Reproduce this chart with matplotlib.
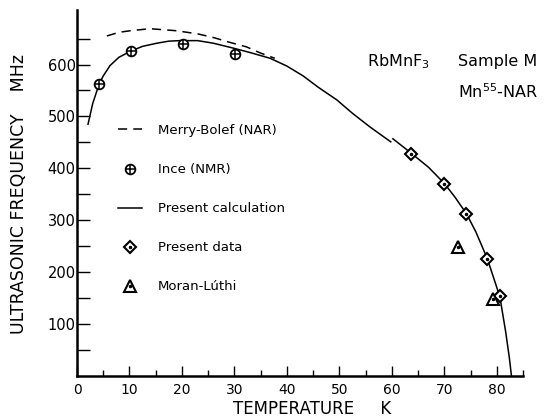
import matplotlib
matplotlib.use('Agg')
import matplotlib.pyplot as plt
from matplotlib.ticker import FixedLocator

# Merry-Bolef (NAR), dashed curve
mb_T = [5.7, 8.0, 10.1, 13.9, 19.0, 23.0, 26.0, 29.0, 32.3, 35.0, 37.7]
mb_f = [655, 662, 665, 669, 665, 659, 652, 643, 634, 622, 612]

# Present calculation, drawn in two pieces like the original
calc1_T = [2.1, 3.0, 4.2, 5.0, 6.3, 8.0, 10.3, 12.5, 15.2, 17.5, 19.6, 23.0,
           26.0, 30.0, 33.0, 36.8, 40.0, 43.1, 46.0, 49.5, 52.5, 55.8, 59.8]
calc1_f = [485, 525, 562, 578, 598, 614, 626, 635, 641, 645, 646, 646,
           641, 631, 623, 612, 597, 578, 556, 532, 506, 480, 451]
calc2_T = [60.2, 63.6, 67.0, 70.0, 72.0, 74.2, 76.0, 78.2, 79.7, 80.6, 81.7, 82.4, 82.8]
calc2_f = [457, 430, 402, 371, 345, 313, 278, 226, 180, 152, 85, 35, 0]

# Ince (NMR)
ince_T = [4.2, 10.3, 20.2, 30.2]
ince_f = [563, 626, 640, 620]

# Present data
data_T = [63.6, 70.0, 74.2, 78.2, 80.6]
data_f = [428, 370, 313, 225, 154]

# Moran-Luthi
ml_T = [72.7, 79.2]
ml_f = [249, 148]

fig = plt.figure(figsize=(5.51, 4.17), dpi=100)
ax = fig.add_axes([77/551, 41/417, 446/551, 366/417])

dash, = ax.plot(mb_T, mb_f, color='k', lw=1.1, dashes=(6, 4))
calc, = ax.plot(calc1_T, calc1_f, color='k', lw=1.1)
ax.plot(calc2_T, calc2_f, color='k', lw=1.1)

ince_o, = ax.plot(ince_T, ince_f, 'o', ms=7, mfc='white', mec='k', mew=1.3, ls='none')
ince_p, = ax.plot(ince_T, ince_f, '+', ms=7, mec='k', mew=1.1, ls='none')

data_d, = ax.plot(data_T, data_f, 'D', ms=6, mfc='white', mec='k', mew=1.5, ls='none')
data_c, = ax.plot(data_T, data_f, 'o', ms=1.5, color='k', ls='none')

ml_t, = ax.plot(ml_T, ml_f, '^', ms=8, mfc='white', mec='k', mew=1.5, ls='none')
ml_c, = ax.plot(ml_T, ml_f, 'o', ms=1.5, color='k', ls='none')

ax.set_xlim(0, 85)
ax.set_ylim(0, 705)

for s in ['top', 'right']:
    ax.spines[s].set_visible(False)
for s in ['left', 'bottom']:
    ax.spines[s].set_linewidth(1.8)

ax.set_xticks(range(0, 81, 10))
ax.xaxis.set_minor_locator(FixedLocator([5, 15, 25, 35, 45, 55, 65, 75, 85]))
ax.set_yticks(range(100, 601, 100))
ax.yaxis.set_minor_locator(FixedLocator([50, 150, 250, 350, 450, 550, 650]))

ax.tick_params(axis='x', which='major', direction='in', length=7, width=1, pad=5, labelsize=10)
ax.tick_params(axis='x', which='minor', direction='in', length=4, width=1)
ax.tick_params(axis='y', which='both', direction='in', length=9, width=1, pad=1, labelsize=10.5)

handles = [dash, (ince_o, ince_p), calc, (data_d, data_c), (ml_t, ml_c)]
labels = ['Merry-Bolef (NAR)', 'Ince (NMR)', 'Present calculation', 'Present data', 'Moran-Lúthi']
ax.legend(handles, labels, loc='upper left', bbox_to_anchor=(118/551, 1 - 124/417),
          bbox_transform=fig.transFigure, frameon=False, fontsize=9.5,
          borderpad=0, borderaxespad=0, handlelength=1.8, handletextpad=1.2,
          labelspacing=1.98)

fig.text(367/551, 1 - 66/417, 'RbMnF$_3$', fontsize=11.5, va='baseline')
fig.text(458/551, 1 - 66/417, 'Sample M', fontsize=11.5, va='baseline')
fig.text(458/551, 1 - 98/417, 'Mn$^{55}$-NAR', fontsize=11.5, va='baseline')

fig.text(19/551, 1 - 194/417, 'ULTRASONIC FREQUENCY    MHz', rotation=90,
         ha='center', va='center', fontsize=12.5)
fig.text(312/551, 1 - 409/417, 'TEMPERATURE     K', ha='center', va='center', fontsize=12)

fig.savefig('out.png', dpi=100)
